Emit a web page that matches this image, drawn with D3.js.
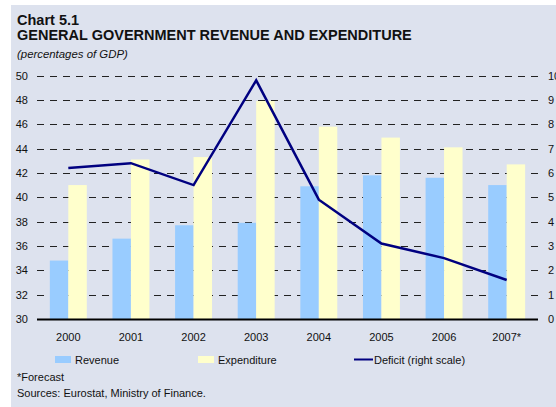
<!DOCTYPE html>
<html>
<head>
<meta charset="utf-8">
<script src="https://cdn.jsdelivr.net/npm/d3@7"></script>
<style>
  html, body { margin: 0; padding: 0; background: #ffffff; }
  svg { display: block; }
  text { font-family: "Liberation Sans", Arial, Helvetica, sans-serif; fill: #111; }
</style>
</head>
<body>
<svg id="chart" width="556" height="407"></svg>
<script>
// General government revenue and expenditure (% of GDP), deficit on right scale
const years = ["2000", "2001", "2002", "2003", "2004", "2005", "2006", "2007*"];
const revenue = [34.8, 36.6, 37.7, 37.9, 40.9, 41.8, 41.6, 41.0];
const expenditure = [41.0, 43.1, 43.3, 47.9, 45.8, 44.9, 44.1, 42.7];
const deficit = [6.2, 6.4, 5.5, 9.8, 4.9, 3.1, 2.5, 1.6];
const leftTicks = [30, 32, 34, 36, 38, 40, 42, 44, 46, 48, 50];
const rightTicks = [0, 1, 2, 3, 4, 5, 6, 7, 8, 9, 10];

const svg = d3.select("#chart");

// panel background
svg.append("rect").attr("x", 11).attr("y", 5).attr("width", 545).attr("height", 402)
  .attr("fill", "#dde2ee");

// titles
svg.append("text").attr("x", 17).attr("y", 24.5).attr("font-size", 14.5).attr("font-weight", "bold")
  .text("Chart 5.1");
svg.append("text").attr("x", 17).attr("y", 40).attr("font-size", 14.5).attr("font-weight", "bold")
  .text("GENERAL GOVERNMENT REVENUE AND EXPENDITURE");
svg.append("text").attr("x", 17).attr("y", 58).attr("font-size", 11.4).attr("font-style", "italic")
  .text("(percentages of GDP)");

const plotLeft = 37, plotRight = 538, plotTop = 75.5, plotBottom = 319;

const x = d3.scaleBand().domain(years).range([plotLeft, plotRight]);
const yL = d3.scaleLinear().domain([30, 50]).range([plotBottom, plotTop]);
const yR = d3.scaleLinear().domain([0, 10]).range([plotBottom, plotTop]);
const barW = x.bandwidth() * 0.295;

// dashed gridlines
svg.append("g").selectAll("line").data(leftTicks.filter(d => d > 30)).join("line")
  .attr("x1", plotLeft).attr("x2", plotRight)
  .attr("y1", d => Math.round(yL(d)) + 0.5).attr("y2", d => Math.round(yL(d)) + 0.5)
  .attr("stroke", "#222").attr("stroke-width", 1).attr("stroke-dasharray", "7,6");

// left axis labels
const leftAxis = d3.axisLeft(yL).tickValues(leftTicks).tickSize(0).tickPadding(0);
const gl = svg.append("g").attr("transform", `translate(28,0)`).call(leftAxis);
gl.select(".domain").remove();
gl.selectAll("text").attr("font-size", 11).attr("fill", "#111")
  .style("font-family", '"Liberation Sans", Arial, sans-serif');

// right axis labels
const rightAxis = d3.axisRight(yR).tickValues(rightTicks).tickSize(0).tickPadding(0);
const gr = svg.append("g").attr("transform", `translate(548,0)`).call(rightAxis);
gr.select(".domain").remove();
gr.selectAll("text").attr("font-size", 11).attr("fill", "#111")
  .style("font-family", '"Liberation Sans", Arial, sans-serif');

// bars
const center = d => x(d) + x.bandwidth() / 2;
svg.append("g").selectAll("rect").data(years).join("rect")
  .attr("x", (d) => center(d) - barW)
  .attr("y", (d, i) => yL(revenue[i]))
  .attr("width", barW)
  .attr("height", (d, i) => yL(30) - yL(revenue[i]))
  .attr("fill", "#99ccff");
svg.append("g").selectAll("rect").data(years).join("rect")
  .attr("x", (d) => center(d))
  .attr("y", (d, i) => yL(expenditure[i]))
  .attr("width", barW)
  .attr("height", (d, i) => yL(30) - yL(expenditure[i]))
  .attr("fill", "#ffffcc");

// baseline
svg.append("line").attr("x1", plotLeft).attr("x2", plotRight)
  .attr("y1", plotBottom + 0.5).attr("y2", plotBottom + 0.5)
  .attr("stroke", "#000").attr("stroke-width", 2);

// deficit line on the right scale
const line = d3.line().x((d, i) => center(years[i])).y(d => yR(d));
svg.append("path").datum(deficit).attr("d", line)
  .attr("fill", "none").attr("stroke", "#000080").attr("stroke-width", 2.5)
  .attr("stroke-linejoin", "miter");

// category labels
const xAxis = d3.axisBottom(x).tickSize(0).tickPadding(0);
const gx = svg.append("g").attr("transform", `translate(0,333)`).call(xAxis);
gx.select(".domain").remove();
gx.selectAll("text").attr("font-size", 11).attr("fill", "#111")
  .style("font-family", '"Liberation Sans", Arial, sans-serif');

// legend
const lg = svg.append("g");
lg.append("rect").attr("x", 55).attr("y", 356).attr("width", 16).attr("height", 7).attr("fill", "#99ccff");
lg.append("text").attr("x", 75).attr("y", 363.5).attr("font-size", 11).text("Revenue");
lg.append("rect").attr("x", 198).attr("y", 356).attr("width", 16).attr("height", 7).attr("fill", "#ffffcc");
lg.append("text").attr("x", 218).attr("y", 363.5).attr("font-size", 11).text("Expenditure");
lg.append("line").attr("x1", 354).attr("x2", 373).attr("y1", 359.5).attr("y2", 359.5)
  .attr("stroke", "#000080").attr("stroke-width", 2);
lg.append("text").attr("x", 374).attr("y", 363.5).attr("font-size", 11).text("Deficit (right scale)");

// notes
svg.append("text").attr("x", 17).attr("y", 381).attr("font-size", 11).text("*Forecast");
svg.append("text").attr("x", 17).attr("y", 397).attr("font-size", 11).text("Sources: Eurostat, Ministry of Finance.");
</script>
</body>
</html>
